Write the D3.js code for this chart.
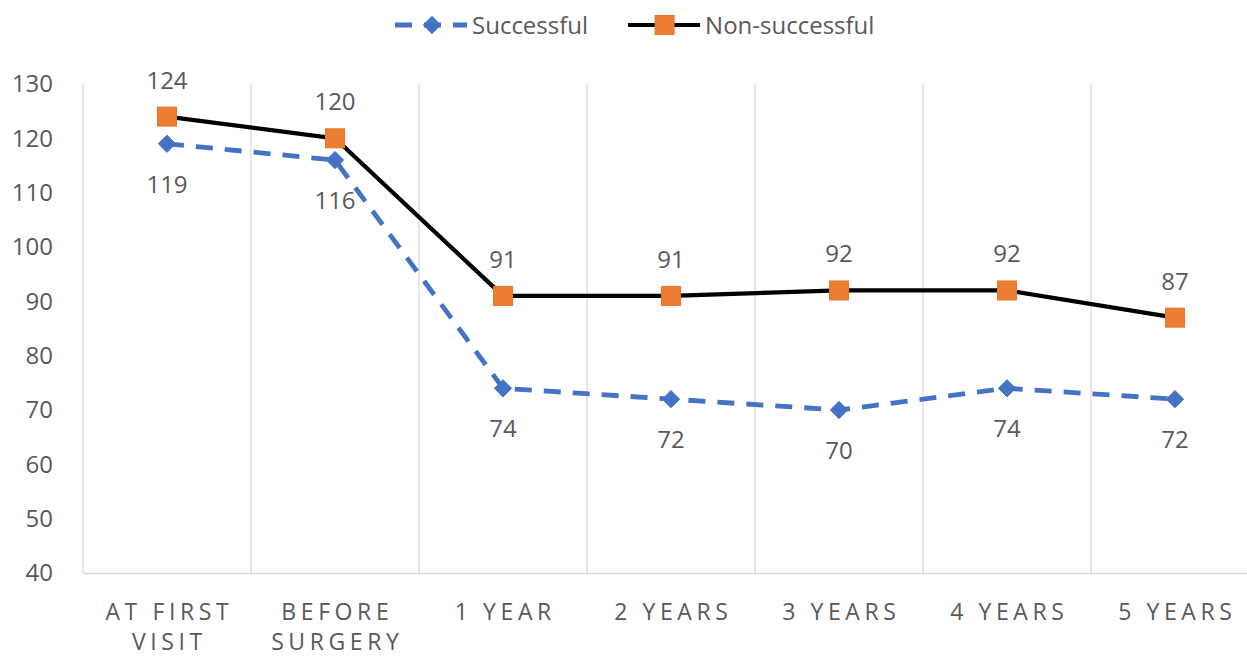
<!DOCTYPE html>
<html>
<head>
<meta charset="utf-8">
<script src="https://cdn.jsdelivr.net/npm/d3@7"></script>
<style>
  html, body { margin: 0; padding: 0; background: #fff; }
  svg { display: block; font-family: "Open Sans", sans-serif; }
</style>
</head>
<body>
<svg id="chart" width="1247" height="657"></svg>
<script>
const categories = ["AT FIRST VISIT", "BEFORE SURGERY", "1 YEAR", "2 YEARS", "3 YEARS", "4 YEARS", "5 YEARS"];
const successful = [119, 116, 74, 72, 70, 74, 72];
const nonSuccessful = [124, 120, 91, 91, 92, 92, 87];
const yTicks = [40, 50, 60, 70, 80, 90, 100, 110, 120, 130];
const seriesNames = ["Successful", "Non-successful"];

(function () {
const plotLeft = 83, plotRight = 1259, plotTop = 84, plotBottom = 573;
const textColor = "#595959";
const gridColor = "#d9d9d9";
const blue = "#4472C4", orange = "#ED7D31", black = "#000000";

const svg = d3.select("#chart");

const x = d3.scaleBand().domain(categories).range([plotLeft, plotRight]).paddingInner(0).paddingOuter(0);
const cx = c => x(c) + x.bandwidth() / 2;
const y = d3.scaleLinear().domain([d3.min(yTicks), d3.max(yTicks)]).range([plotBottom, plotTop]);

// vertical gridlines at category boundaries
const bounds = categories.map(c => x(c)).concat([plotRight]);
svg.append("g").selectAll("line").data(bounds).join("line")
  .attr("x1", d => d).attr("x2", d => d)
  .attr("y1", y(d3.max(yTicks))).attr("y2", y(d3.min(yTicks)))
  .attr("stroke", gridColor).attr("stroke-width", 1.3);

// y axis
const yAxis = svg.append("g").attr("transform", `translate(${plotLeft},0)`)
  .call(d3.axisLeft(y).tickValues(yTicks).tickSize(0).tickPadding(30).tickFormat(d3.format("d")));
yAxis.select(".domain").remove();
yAxis.selectAll("text").attr("fill", textColor).style("font-size", "24px")
  .style("font-family", "'Open Sans', sans-serif");

// x axis
const xAxis = svg.append("g").attr("transform", `translate(0,${plotBottom})`)
  .call(d3.axisBottom(x).tickSize(0).tickPadding(0));
xAxis.select(".domain").attr("stroke", gridColor).attr("stroke-width", 1.5);
xAxis.selectAll("text").attr("fill", textColor)
  .style("font-size", "23px").style("letter-spacing", "4.6px")
  .style("font-family", "'Open Sans', sans-serif")
  .each(function(d) {
    const t = d3.select(this);
    const words = d.split(" ");
    t.text(null).attr("y", 0).attr("dy", null);
    let lines = [];
    let cur = [];
    const tmp = t.append("tspan");
    words.forEach(w => {
      const test = cur.concat([w]).join(" ");
      tmp.text(test);
      if (this.getComputedTextLength() > x.bandwidth() - 10 && cur.length) {
        lines.push(cur.join(" "));
        cur = [w];
      } else cur.push(w);
    });
    lines.push(cur.join(" "));
    tmp.remove();
    lines.forEach((ln, i) => {
      t.append("tspan").attr("x", 2.3).attr("y", 47 + i * 30).text(ln);
    });
  });

// lines and markers
const seriesData = [
  { name: seriesNames[0], values: successful, color: blue, dash: "17,12", marker: "diamond", labelPos: "below" },
  { name: seriesNames[1], values: nonSuccessful, color: black, dash: null, marker: "square", labelPos: "above" }
];

const line = d3.line().x((d, i) => cx(categories[i])).y(d => y(d));

seriesData.forEach(s => {
  const g = svg.append("g");
  g.append("path").datum(s.values)
    .attr("d", line).attr("fill", "none")
    .attr("stroke", s.color).attr("stroke-width", s.marker === "diamond" ? 4.8 : 4.2)
    .attr("stroke-dasharray", s.dash).attr("stroke-linejoin", "round");
  if (s.marker === "diamond") {
    g.selectAll("path.m").data(s.values).join("path").attr("class", "m")
      .attr("d", d3.symbol(d3.symbolDiamond2, 190))
      .attr("transform", (d, i) => `translate(${cx(categories[i])},${y(d)})`)
      .attr("fill", blue).attr("stroke", blue).attr("stroke-width", 1);
  } else {
    g.selectAll("rect").data(s.values).join("rect")
      .attr("x", (d, i) => cx(categories[i]) - 9.5).attr("y", d => y(d) - 9.5)
      .attr("width", 19).attr("height", 19)
      .attr("fill", orange).attr("stroke", "#e8762a").attr("stroke-width", 1);
  }
});

// data labels
seriesData.forEach(s => {
  svg.append("g").selectAll("text").data(s.values).join("text")
    .attr("x", (d, i) => cx(categories[i]))
    .attr("y", d => s.labelPos === "above" ? y(d) - 28 : y(d) + 49)
    .attr("text-anchor", "middle").attr("fill", textColor)
    .style("font-size", "24px").text(d => d);
});

// legend
const legend = svg.append("g");
let lx = 395;
const ly = 25;
seriesData.forEach(s => {
  const gi = legend.append("g").attr("transform", `translate(${lx},${ly})`);
  gi.append("line").attr("x1", 0).attr("x2", 72).attr("y1", 0).attr("y2", 0)
    .attr("stroke", s.color).attr("stroke-width", s.marker === "diamond" ? 4.8 : 4.2)
    .attr("stroke-dasharray", s.dash);
  if (s.marker === "diamond") {
    gi.append("path").attr("d", d3.symbol(d3.symbolDiamond2, 190))
      .attr("transform", "translate(37,0)").attr("fill", blue).attr("stroke", blue);
  } else {
    gi.append("rect").attr("x", 27).attr("y", -9.5).attr("width", 19).attr("height", 19)
      .attr("fill", orange).attr("stroke", "#e8762a");
  }
  const txt = gi.append("text").attr("x", 77).attr("y", 9)
    .attr("fill", textColor).style("font-size", "24px").text(s.name);
  lx += 77 + txt.node().getComputedTextLength() + 40;
});
})();
</script>
</body>
</html>
